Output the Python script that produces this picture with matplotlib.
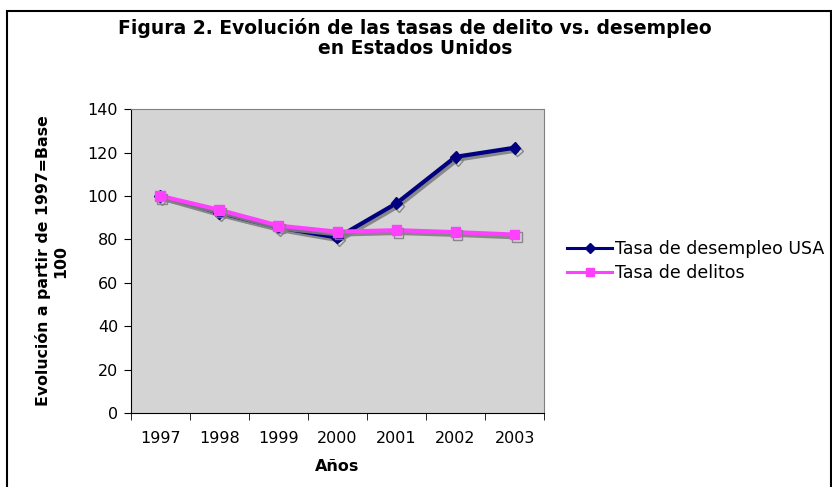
import matplotlib
matplotlib.use("Agg")
from matplotlib import pyplot as plt
from matplotlib import patheffects as pe
from matplotlib.patches import Rectangle
from matplotlib.lines import Line2D

years = ["1997", "1998", "1999", "2000", "2001", "2002", "2003"]
desempleo = [100, 92.3, 85.5, 80.8, 96.6, 118.0, 122.2]
delitos = [100, 93.6, 86.3, 83.5, 84.2, 83.3, 82.2]

plt.rcParams['font.family'] = ['DejaVu Sans']

fig = plt.figure(figsize=(8.32, 4.87), dpi=100)
ax = fig.add_axes([0.157, 0.152, 0.497, 0.624])

# marco del grafico
fig.patches.append(Rectangle((7 / 832, -0.05), 824 / 832, 1.05 - 11 / 487,
                             transform=fig.transFigure, fill=False,
                             edgecolor='black', linewidth=1.5))

ax.set_facecolor('#d4d4d4')
shadow = [pe.SimpleLineShadow(offset=(1.5, -2), shadow_color='#808080', alpha=0.9),
          pe.Normal()]

azul = '#000080'
rosa = '#ff40ff'
x = list(range(len(years)))
ax.plot(x, desempleo, color=azul, linewidth=3, marker='D', markersize=6,
        path_effects=shadow, zorder=3)
ax.plot(x, delitos, color=rosa, linewidth=3, marker='s', markersize=7,
        path_effects=shadow, zorder=4)

ax.set_xlim(-0.5, len(years) - 0.5)
ax.set_ylim(0, 140)
ax.set_yticks(range(0, 141, 20))
ax.set_xticks(x)
ax.set_xticklabels(years)
ax.set_xticks([i - 0.5 for i in range(len(years) + 1)], minor=True)
ax.tick_params(axis='x', which='major', length=0, labelsize=11.5, pad=13)
ax.tick_params(axis='x', which='minor', length=5, direction='out')
ax.tick_params(axis='y', length=5, labelsize=11.5, pad=4)
for s in ['left', 'bottom']:
    ax.spines[s].set_color('black')
for s in ['top', 'right']:
    ax.spines[s].set_color('#808080')

ax.set_xlabel('Años', fontsize=11.5, fontweight='bold', labelpad=9)
ax.set_ylabel('Evolución a partir de 1997=Base\n100', fontsize=11.3,
              fontweight='bold', labelpad=14)

fig.text(415 / 832, 1 - 38 / 487,
         'Figura 2. Evolución de las tasas de delito vs. desempleo\nen Estados Unidos',
         ha='center', va='center', fontsize=13.5, fontweight='bold', linespacing=1.05)

handles = [Line2D([], [], color=azul, linewidth=2.2, marker='D', markersize=5),
           Line2D([], [], color=rosa, linewidth=2.2, marker='s', markersize=6)]
ax.legend(handles, ['Tasa de desempleo USA', 'Tasa de delitos'],
          loc='center left', bbox_to_anchor=(1.035, 0.5), frameon=False,
          fontsize=12.5, handlelength=2.6, handletextpad=0.15, labelspacing=0.35,
          borderpad=0)

fig.savefig('out.png', dpi=100)
